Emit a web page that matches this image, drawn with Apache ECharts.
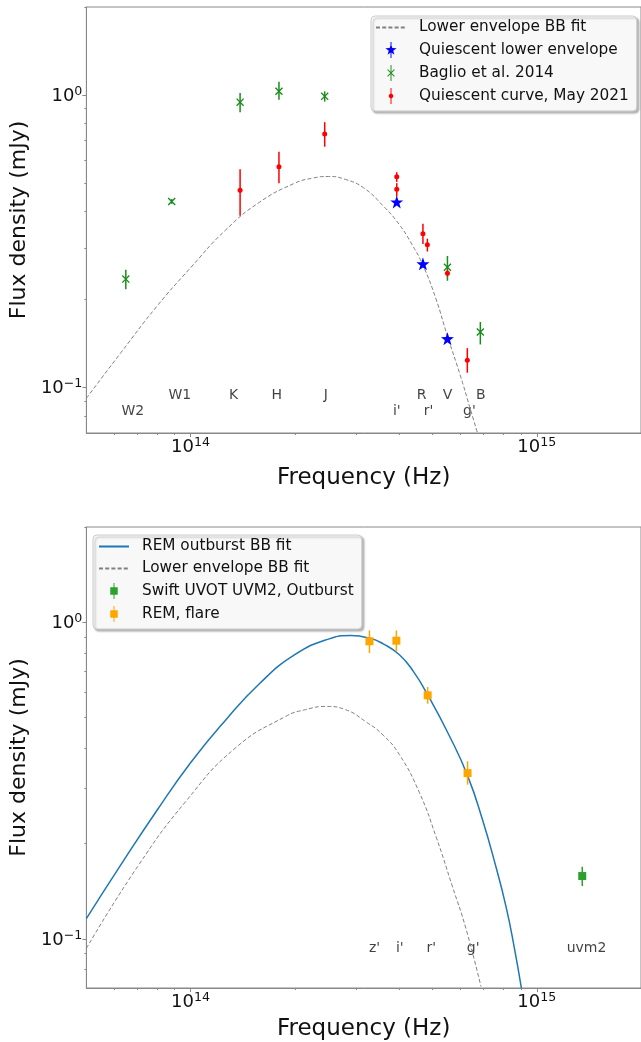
<!DOCTYPE html>
<html>
<head>
<meta charset="utf-8">
<script src="https://cdn.jsdelivr.net/npm/echarts@6/dist/echarts.min.js"></script>
<style>
  html, body { margin: 0; padding: 0; background: #fff; }
  #chart { width: 641px; height: 1042px; }
</style>
</head>
<body>
<div id="chart"></div>
<script>
const FONT = 'DejaVu Sans'

// shared axis limits and ticks
const xMin = 5e13, xMax = 2e15
const yMin = 0.07, yMax = 2
const xMajor = [1e14, 1e15]
const xMinor = [6e13, 7e13, 8e13, 9e13, 2e14, 3e14, 4e14, 5e14, 6e14, 7e14, 8e14, 9e14, 2e15]
const yMajor = [0.1, 1]
const yMinor = [0.08, 0.09, 0.2, 0.3, 0.4, 0.5, 0.6, 0.7, 0.8, 0.9, 2]

// lower envelope blackbody fit, top panel
const envTopFreq = [5e13, 6.3e13, 8e13, 1e14, 1.26e14, 1.58e14, 2e14, 2.25e14, 2.5e14, 2.8e14, 3.16e14, 3.6e14, 4e14, 4.35e14, 4.69e14, 5.1e14, 5.52e14, 6e14, 6.4e14, 6.74e14]
const envTopFlux = [0.092, 0.132, 0.190, 0.257, 0.345, 0.43, 0.50, 0.52, 0.527, 0.515, 0.482, 0.418, 0.362, 0.31, 0.262, 0.203, 0.150, 0.111, 0.086, 0.070]

// top panel: quiescent lower envelope (blue stars)
const starFreq = [3.94e14, 4.69e14, 5.52e14]
const starFlux = [0.431, 0.265, 0.147]

// top panel: Baglio et al. 2014
const bagFreq = [6.5e13, 8.82e13, 1.39e14, 1.80e14, 2.44e14, 5.52e14, 6.87e14]
const bagFlux = [0.235, 0.433, 0.946, 1.03, 0.99, 0.258, 0.155]
const bagLo = [0.217, 0.425, 0.874, 0.963, 0.95, 0.232, 0.1405]
const bagHi = [0.253, 0.441, 1.016, 1.11, 1.03, 0.282, 0.1677]

// top panel: quiescent curve, May 2021
const quiFreq = [1.39e14, 1.80e14, 2.44e14, 3.94e14, 3.94e14, 4.69e14, 4.83e14, 5.52e14, 6.30e14]
const quiFlux = [0.473, 0.569, 0.736, 0.526, 0.477, 0.336, 0.308, 0.246, 0.124]
const quiLo = [0.387, 0.50, 0.666, 0.505, 0.45, 0.310, 0.292, 0.240, 0.1125]
const quiHi = [0.558, 0.64, 0.808, 0.545, 0.50, 0.363, 0.323, 0.252, 0.1365]

// top panel band names
const topBands = ['W2', 'W1', 'K', 'H', 'J', "i'", 'R', "r'", 'V', "g'", 'B']
const topBandFreq = [6.81e13, 9.31e13, 1.332e14, 1.775e14, 2.458e14, 3.94e14, 4.65e14, 4.87e14, 5.52e14, 6.39e14, 6.89e14]
const topBandFlux = [0.0829, 0.0939, 0.0939, 0.0939, 0.0939, 0.0829, 0.0939, 0.0829, 0.0939, 0.0829, 0.0939]

// bottom panel: REM outburst blackbody fit
const remFitFreq = [5e13, 6.3e13, 8e13, 1e14, 1.26e14, 1.58e14, 2e14, 2.5e14, 2.9e14, 3.3e14, 3.6e14, 4.01e14, 4.4e14, 4.84e14, 5.58e14, 6.31e14, 6.97e14, 7.62e14, 8.15e14, 8.6e14, 9.03e14]
const remFitFlux = [0.116, 0.172, 0.255, 0.36, 0.49, 0.64, 0.79, 0.885, 0.908, 0.89, 0.855, 0.79, 0.70, 0.590, 0.44, 0.328, 0.238, 0.169, 0.1265, 0.0946, 0.0698]

// bottom panel: lower envelope blackbody fit
const envBotFreq = [5e13, 7.03e13, 9.69e13, 1.351e14, 1.882e14, 2.148e14, 2.466e14, 2.8e14, 3.21e14, 3.6e14, 4.01e14, 4.58e14, 5.12e14, 5.71e14, 6.24e14, 6.90e14]
const envBotFlux = [0.0934, 0.1693, 0.272, 0.402, 0.5045, 0.530, 0.5424, 0.53, 0.485, 0.44, 0.382, 0.29, 0.21, 0.146, 0.108, 0.0707]

// bottom panel: Swift UVOT UVM2
const uvFreq = [1.353e15]
const uvFlux = [0.158]
const uvLo = [0.147]
const uvHi = [0.169]

// bottom panel: REM flare
const remFreq = [3.286e14, 3.93e14, 4.84e14, 6.31e14]
const remFlux = [0.871, 0.875, 0.588, 0.334]
const remLo = [0.800, 0.810, 0.553, 0.307]
const remHi = [0.943, 0.943, 0.625, 0.364]

// bottom panel band names
const botBands = ["z'", "i'", "r'", "g'", 'uvm2']
const botBandFreq = [3.40e14, 4.02e14, 4.96e14, 6.55e14, 1.392e15]
const botBandFlux = [0.0934, 0.0934, 0.0934, 0.0934, 0.0934]

const starPath = 'path://M5,0 L6.176,3.382 L9.755,3.455 L6.902,5.618 L7.939,9.045 L5,7 L2.061,9.045 L3.098,5.618 L0.245,3.455 L3.824,3.382 Z'
const xPath = 'path://M0,0.12L0.12,0L1,0.88L0.88,1Z M0.88,0L1,0.12L0.12,1L0,0.88Z'
const barPath = 'M4.55,0 L5.45,0 L5.45,15 L4.55,15 Z'
const iconStar = 'path://M5,2 L6.3,5.7 L10.2,5.8 L7.1,8.2 L8.2,11.9 L5,9.7 L1.8,11.9 L2.9,8.2 L-0.2,5.8 L3.7,5.7 Z ' + barPath
const iconX = 'path://M1.5,4.6 L2.1,4 L8.5,10.4 L7.9,11 Z M7.9,4 L8.5,4.6 L2.1,11 L1.5,10.4 Z ' + barPath
const iconDot = 'path://M4.16,5.47 L5.84,5.47 L7.03,6.66 L7.03,8.34 L5.84,9.53 L4.16,9.53 L2.97,8.34 L2.97,6.66 Z ' + barPath
const iconSquare = 'path://M1.5,4 L8.5,4 L8.5,11 L1.5,11 Z ' + barPath

const powLabel = v => {
  const e = Math.round(Math.log10(v))
  return '{b|10}{s|' + String(e).replace('-', '\u2212') + '}'
}
const tickRich = {
  b: { fontSize: 18, color: '#111', fontFamily: FONT, lineHeight: 20, verticalAlign: 'bottom', padding: [2, 0, 0, 0] },
  s: { fontSize: 12.6, color: '#111', fontFamily: FONT, lineHeight: 14, verticalAlign: 'top' },
}

const zip = (a, b) => a.map((v, i) => [v, b[i]])

function xAxes(g) {
  return [
    {
      type: 'log', logBase: 10, gridIndex: g, position: 'bottom', min: xMin, max: xMax,
      name: 'Frequency (Hz)', nameLocation: 'middle', nameGap: g === 0 ? 34 : 30,
      nameTextStyle: { fontSize: 23, color: '#111', fontFamily: FONT },
      axisLine: { lineStyle: { color: '#888', width: 1 } },
      axisTick: { customValues: xMajor, length: 4, lineStyle: { color: '#888' } },
      axisLabel: { customValues: xMajor, formatter: powLabel, rich: tickRich, margin: 3 },
      splitLine: { show: false },
    },
    {
      type: 'log', logBase: 10, gridIndex: g, position: 'bottom', min: xMin, max: xMax,
      axisLine: { show: false },
      axisTick: { customValues: xMinor, length: 2, lineStyle: { color: '#888' } },
      axisLabel: { show: false },
      splitLine: { show: false },
    },
  ]
}

function yAxes(g) {
  return [
    {
      type: 'log', logBase: 10, gridIndex: g, position: 'left', min: yMin, max: yMax,
      name: 'Flux density (mJy)', nameLocation: 'middle', nameGap: 56,
      nameTextStyle: { fontSize: 22, color: '#111', fontFamily: FONT },
      axisLine: { lineStyle: { color: '#888', width: 1 } },
      axisTick: { customValues: yMajor, length: 4, lineStyle: { color: '#888' } },
      axisLabel: { customValues: yMajor, formatter: powLabel, rich: tickRich, margin: 4 },
      splitLine: { show: false },
    },
    {
      type: 'log', logBase: 10, gridIndex: g, position: 'left', min: yMin, max: yMax,
      axisLine: { show: false },
      axisTick: { customValues: yMinor, length: 2, lineStyle: { color: '#888' } },
      axisLabel: { show: false },
      splitLine: { show: false },
    },
  ]
}

function errorBars(name, freq, lo, hi, color, ax) {
  return {
    type: 'custom', name, xAxisIndex: ax, yAxisIndex: ax, silent: true, z: 3,
    data: freq.map((f, i) => [f, lo[i], hi[i]]),
    encode: { x: 0, y: [1, 2] },
    renderItem: (params, api) => {
      const a = api.coord([api.value(0), api.value(1)])
      const b = api.coord([api.value(0), api.value(2)])
      return {
        type: 'line',
        shape: { x1: a[0], y1: a[1], x2: b[0], y2: b[1] },
        style: { stroke: color, lineWidth: 1.5 },
      }
    },
  }
}

function bandLabels(name, names, freq, flux, ax) {
  return {
    type: 'scatter', name, xAxisIndex: ax, yAxisIndex: ax, silent: true, z: 1,
    symbolSize: 1, itemStyle: { color: 'rgba(0,0,0,0)' },
    label: { show: true, position: 'inside', formatter: '{b}', fontSize: 14, color: '#111', fontFamily: FONT },
    data: names.map((n, i) => ({ name: n, value: [freq[i], flux[i]] })),
  }
}

const envLine = (ax, freq, flux) => ({
  type: 'line', name: 'Lower envelope BB fit', xAxisIndex: ax, yAxisIndex: ax, z: 2,
  data: zip(freq, flux), smooth: 0.5, symbol: 'none', silent: true,
  lineStyle: { color: '#808080', width: 1, type: [4, 2.2] },
  itemStyle: { color: '#808080' },
})

const scatter = (name, ax, freq, flux, symbol, size, color) => ({
  type: 'scatter', name, xAxisIndex: ax, yAxisIndex: ax, z: 4,
  data: zip(freq, flux), symbol, symbolSize: size,
  itemStyle: { color, opacity: 1 },
})

const lineItem = name => ({ name, itemStyle: { opacity: 0 } })

const legendBase = {
  orient: 'vertical', itemWidth: 30, itemHeight: 16, itemGap: 7,
  backgroundColor: 'rgba(255,255,255,0.9)', borderColor: '#cccccc', borderWidth: 1, borderRadius: 4,
  shadowColor: 'rgba(0,0,0,0.3)', shadowBlur: 2, shadowOffsetX: 2, shadowOffsetY: 2,
  textStyle: { fontSize: 15.3, color: '#111', fontFamily: FONT, padding: [0, 0, 0, 8] },
  selectedMode: false,
}

const chart = echarts.init(document.getElementById('chart'))
chart.setOption({
  animation: false,
  backgroundColor: '#fff',
  grid: [
    { left: 86, top: 7, width: 556, height: 426, show: true, borderColor: '#888', borderWidth: 1, backgroundColor: 'transparent' },
    { left: 86, top: 527, width: 556, height: 461, show: true, borderColor: '#888', borderWidth: 1, backgroundColor: 'transparent' },
  ],
  xAxis: [...xAxes(0), ...xAxes(1)],
  yAxis: [...yAxes(0), ...yAxes(1)],
  legend: [
    {
      ...legendBase, left: 371, top: 16, padding: [4, 8, 7, 4],
      data: [
        lineItem('Lower envelope BB fit'),
        { name: 'Quiescent lower envelope', icon: iconStar },
        { name: 'Baglio et al. 2014', icon: iconX },
        { name: 'Quiescent curve, May 2021', icon: iconDot },
      ],
    },
    {
      ...legendBase, left: 93, top: 535, padding: [4, 8, 7, 5],
      data: [
        lineItem('REM outburst BB fit'),
        lineItem('Lower envelope BB fit'),
        { name: 'Swift UVOT UVM2, Outburst', icon: iconSquare },
        { name: 'REM, flare', icon: iconSquare },
      ],
    },
  ],
  series: [
    // top panel
    envLine(0, envTopFreq, envTopFlux),
    errorBars('Baglio errors', bagFreq, bagLo, bagHi, '#1a8c1a', 0),
    errorBars('Quiescent errors', quiFreq, quiLo, quiHi, '#ff0000', 0),
    { ...scatter('Quiescent lower envelope', 0, starFreq, starFlux, starPath, 13, '#0000ff'), z: 5 },
    scatter('Baglio et al. 2014', 0, bagFreq, bagFlux, xPath, 8, '#1a8c1a'),
    scatter('Quiescent curve, May 2021', 0, quiFreq, quiFlux, 'circle', 5, '#ff0000'),
    bandLabels('top bands', topBands, topBandFreq, topBandFlux, 0),

    // bottom panel
    {
      type: 'line', name: 'REM outburst BB fit', xAxisIndex: 2, yAxisIndex: 2, z: 2,
      data: zip(remFitFreq, remFitFlux), smooth: 0.5, symbol: 'none', silent: true,
      lineStyle: { color: '#1f77b4', width: 1.5 }, itemStyle: { color: '#1f77b4' },
    },
    envLine(2, envBotFreq, envBotFlux),
    errorBars('UVM2 errors', uvFreq, uvLo, uvHi, '#2ca02c', 2),
    errorBars('REM errors', remFreq, remLo, remHi, '#ffa500', 2),
    scatter('Swift UVOT UVM2, Outburst', 2, uvFreq, uvFlux, 'rect', 8, '#2ca02c'),
    scatter('REM, flare', 2, remFreq, remFlux, 'rect', 8, '#ffa500'),
    bandLabels('bottom bands', botBands, botBandFreq, botBandFlux, 2),
  ],
})

window.addEventListener('resize', () => chart.resize())
</script>
</body>
</html>
